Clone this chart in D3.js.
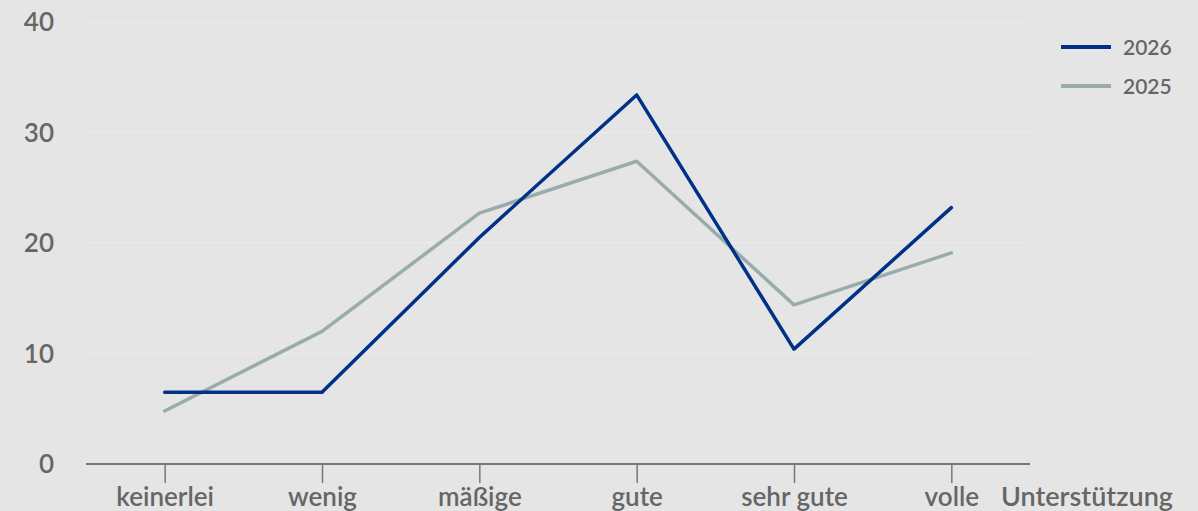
<!DOCTYPE html>
<html>
<head>
<meta charset="utf-8">
<style>
  body { margin: 0; background: #e5e5e5; }
  text { font-family: Lato, "Open Sans", sans-serif; fill: #666; }
</style>
</head>
<body>
<div id="container"></div>
<script src="https://cdnjs.cloudflare.com/ajax/libs/d3/7.8.5/d3.min.js"></script>
<script>
const categories = ["keinerlei", "wenig", "mäßige", "gute", "sehr gute", "volle"];
const values2026 = [6.5, 6.5, 20.5, 33.4, 10.4, 23.2];
const values2025 = [4.8, 12.0, 22.7, 27.4, 14.4, 19.1];
const yTicks = [0, 10, 20, 30, 40];
const seriesNames = ["2026", "2025"];
const axisTitle = "Unterstützung";

// chart dimensions
const width = 1198;
const height = 511;
const marginLeft = 86;
const plotRight = 1030;
const marginTop = 22;
const plotBottom = 464;

const x = d3.scalePoint()
    .domain(categories)
    .range([marginLeft, plotRight])
    .padding(0.5);

const y = d3.scaleLinear()
    .domain([0, 40])
    .range([plotBottom, marginTop]);

const svg = d3.create("svg")
    .attr("width", width)
    .attr("height", height);

svg.append("rect")
    .attr("width", width)
    .attr("height", height)
    .attr("fill", "#e5e5e5");

// gridlines
svg.append("g")
    .selectAll("line")
    .data(yTicks.filter(d => d > 0))
    .join("line")
    .attr("x1", marginLeft)
    .attr("x2", plotRight)
    .attr("y1", d => y(d))
    .attr("y2", d => y(d))
    .attr("stroke", "#ececec")
    .attr("stroke-width", 1);

// y axis labels
svg.append("g")
    .selectAll("text")
    .data(yTicks)
    .join("text")
    .attr("x", 54)
    .attr("y", d => y(d))
    .attr("dy", "0.36em")
    .attr("text-anchor", "end")
    .attr("font-size", 26)
    .attr("font-weight", 600)
    .text(d => d);

// x axis
const xAxis = svg.append("g")
    .attr("transform", `translate(0,${plotBottom})`)
    .call(d3.axisBottom(x).tickSize(19).tickPadding(5));
xAxis.select(".domain")
    .attr("d", `M${marginLeft},0H${plotRight}`)
    .attr("stroke", "#777")
    .attr("stroke-width", 2);
xAxis.selectAll(".tick line")
    .attr("stroke", "#777")
    .attr("stroke-width", 1.5);
xAxis.selectAll(".tick text")
    .attr("font-size", 26)
    .attr("font-weight", 600)
    .attr("font-family", "Lato, sans-serif")
    .attr("fill", "#666");

svg.append("text")
    .attr("x", 1001)
    .attr("y", 506)
    .attr("font-size", 27)
    .attr("font-weight", 600)
    .text(axisTitle);

// lines
const line = d3.line()
    .x((d, i) => x(categories[i]))
    .y(d => y(d));

svg.append("path")
    .attr("fill", "none")
    .attr("stroke", "#9aabab")
    .attr("stroke-width", 3.5)
    .attr("stroke-linejoin", "round")
    .attr("stroke-linecap", "round")
    .attr("d", line(values2025));

svg.append("path")
    .attr("fill", "none")
    .attr("stroke", "#003087")
    .attr("stroke-width", 3.5)
    .attr("stroke-linejoin", "round")
    .attr("stroke-linecap", "round")
    .attr("d", line(values2026));

// legend
const legendColors = ["#003087", "#9aabab"];
const legend = svg.append("g")
    .selectAll("g")
    .data(seriesNames)
    .join("g")
    .attr("transform", (d, i) => `translate(1061,${47 + i * 39})`);
legend.append("line")
    .attr("x1", 0)
    .attr("x2", 50)
    .attr("stroke", (d, i) => legendColors[i])
    .attr("stroke-width", 4);
legend.append("text")
    .attr("x", 62)
    .attr("dy", "0.36em")
    .attr("font-size", 21)
    .attr("font-weight", 600)
    .text(d => d);

container.append(svg.node());
</script>
</body>
</html>
